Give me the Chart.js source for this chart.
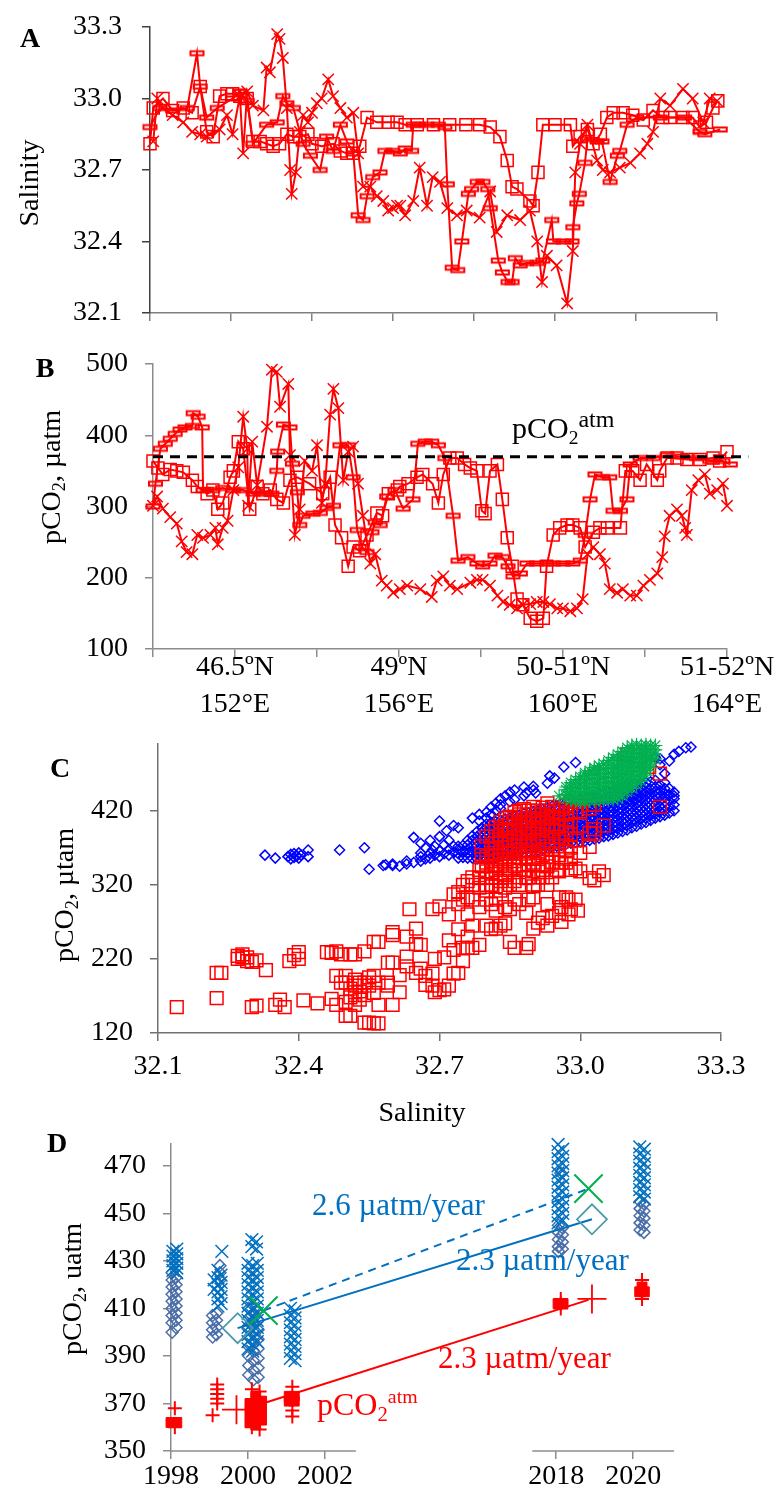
<!DOCTYPE html>
<html><head><meta charset="utf-8"><title>Salinity and pCO2</title>
<script src="https://cdn.jsdelivr.net/npm/chart.js@4.4.1/dist/chart.umd.min.js"></script>
<style>
html,body{margin:0;padding:0;background:#fff;}
body{width:784px;height:1488px;position:relative;overflow:hidden;font-family:'Liberation Serif','Times New Roman',serif;color:#000;}
canvas{position:absolute;left:0;}
.t{position:absolute;white-space:nowrap;line-height:1;}
.c{transform:translate(-50%,-50%);}
.r{transform:translate(-50%,-50%) rotate(-90deg);}
.b{font-weight:bold;}
.sb{font-size:0.65em;position:relative;top:0.3em;}
.sp{font-size:0.62em;position:relative;top:-0.62em;}
</style></head><body>
<canvas id="cA" width="784" height="340" style="top:0px"></canvas>
<canvas id="cB" width="784" height="390" style="top:340px"></canvas>
<canvas id="cC" width="784" height="400" style="top:720px"></canvas>
<canvas id="cD" width="784" height="368" style="top:1120px"></canvas>

<div class="t c b" style="left:30px;top:38px;font-size:28px">A</div>
<div class="t c b" style="left:45px;top:368px;font-size:28px">B</div>
<div class="t c b" style="left:60px;top:768px;font-size:28px">C</div>
<div class="t c b" style="left:57px;top:1143px;font-size:28px">D</div>

<div class="t r" style="left:29px;top:183px;font-size:28px">Salinity</div>
<div class="t r" style="left:51px;top:477px;font-size:28px">pCO<span class="sb">2</span>, µatm</div>
<div class="t r" style="left:64px;top:895px;font-size:28px">pCO<span class="sb">2</span>, µtam</div>
<div class="t r" style="left:72px;top:1289px;font-size:28px">pCO<span class="sb">2</span>, uatm</div>
<div class="t c" style="left:422px;top:1112px;font-size:28px">Salinity</div>

<div class="t" style="left:512px;top:413px;font-size:30px">pCO<span class="sb">2</span><span class="sp" style="font-size:0.8em;top:-0.45em">atm</span></div>
<div class="t" style="left:312px;top:1189px;font-size:31px;color:#0070C0">2.6 µatm/year</div>
<div class="t" style="left:456px;top:1244px;font-size:31px;color:#0070C0">2.3 µatm/year</div>
<div class="t" style="left:438px;top:1342px;font-size:31px;color:#FF0000">2.3 µatm/year</div>
<div class="t" style="left:317px;top:1388px;font-size:32px;color:#FF0000">pCO<span class="sb">2</span><span class="sp">atm</span></div>

<script>
// ---------------- DATA ----------------
// Panel A: salinity along transect (x = position index 0..7)
const aXTicks = [0,1,2,3,4,5,6,7];
const aYTicks = [32.1,32.4,32.7,33.0,33.3];
const aCross = [[0.04,32.82],[0.09,33.0],[0.16,32.96],[0.28,32.93],[0.41,32.9],[0.52,32.86],[0.62,32.85],[0.70,32.84],[0.86,32.87],[0.95,32.93],[1.02,32.85],[1.11,33.01],[1.15,32.77],[1.20,33.03],[1.27,32.97],[1.40,32.95],[1.44,33.13],[1.48,33.11],[1.57,33.27],[1.60,33.25],[1.64,33.17],[1.69,32.96],[1.73,32.7],[1.75,32.6],[1.80,32.69],[1.85,32.86],[1.89,32.93],[1.95,32.9],[2.0,32.94],[2.06,32.98],[2.12,33.0],[2.20,33.08],[2.26,33.01],[2.35,32.96],[2.43,32.92],[2.51,32.94],[2.57,32.77],[2.63,32.63],[2.72,32.63],[2.80,32.59],[2.88,32.57],[2.94,32.53],[3.0,32.54],[3.05,32.55],[3.09,32.55],[3.15,32.51],[3.25,32.57],[3.33,32.71],[3.42,32.55],[3.49,32.67],[3.58,32.65],[3.67,32.54],[3.79,32.51],[3.91,32.53],[4.07,32.5],[4.20,32.61],[4.28,32.44],[4.41,32.51],[4.57,32.49],[4.69,32.53],[4.78,32.4],[4.84,32.23],[4.90,32.34],[5.02,32.3],[5.15,32.14],[5.22,32.36],[5.25,32.69],[5.31,32.81],[5.40,32.89],[5.52,32.74],[5.59,32.7],[5.68,32.69],[5.80,32.71],[5.93,32.73],[6.05,32.77],[6.14,32.81],[6.21,32.86],[6.30,33.0],[6.42,32.97],[6.58,33.04],[6.70,33.0],[6.83,32.9],[6.91,33.0],[7.0,32.99]];
const aDash = [[0.0,32.88],[0.12,32.96],[0.28,32.95],[0.46,32.96],[0.58,33.19],[0.62,33.05],[0.70,32.92],[0.83,32.96],[1.02,33.0],[1.11,33.03],[1.20,32.99],[1.27,32.81],[1.44,32.89],[1.57,32.9],[1.64,33.01],[1.69,32.98],[1.77,32.96],[1.89,32.81],[1.98,32.76],[2.10,32.7],[2.18,32.84],[2.26,32.78],[2.35,32.89],[2.43,32.82],[2.51,32.77],[2.57,32.51],[2.63,32.49],[2.68,32.59],[2.75,32.67],[2.84,32.69],[2.90,32.78],[3.0,32.78],[3.09,32.77],[3.15,32.79],[3.23,32.78],[3.25,32.89],[3.31,32.89],[3.42,32.89],[3.56,32.89],[3.64,32.88],[3.67,32.64],[3.73,32.29],[3.80,32.28],[3.85,32.4],[3.93,32.6],[3.97,32.62],[4.04,32.65],[4.11,32.65],[4.17,32.62],[4.20,32.54],[4.30,32.32],[4.35,32.27],[4.42,32.23],[4.47,32.23],[4.51,32.33],[4.57,32.3],[4.65,32.31],[4.78,32.31],[4.85,32.32],[4.96,32.49],[4.98,32.4],[5.1,32.4],[5.21,32.4],[5.22,32.46],[5.27,32.56],[5.30,32.6],[5.37,32.73],[5.40,32.83],[5.52,32.82],[5.58,32.82],[5.68,32.65],[5.77,32.76],[5.80,32.78],[5.89,32.89],[6.01,32.92],[6.3,32.92],[6.6,32.92],[6.79,32.86],[6.85,32.85],[7.04,32.87]];
const aSquare = [[0.0,32.81],[0.04,32.96],[0.16,33.0],[0.28,32.95],[0.41,32.96],[0.52,32.94],[0.62,33.05],[0.70,32.86],[0.78,32.84],[0.86,33.01],[0.95,33.02],[1.02,33.02],[1.11,33.01],[1.20,33.0],[1.27,32.82],[1.36,32.82],[1.44,32.81],[1.52,32.8],[1.60,32.81],[1.69,32.85],[1.77,32.84],[1.85,32.84],[1.95,32.85],[2.0,32.81],[2.12,32.8],[2.26,32.81],[2.35,32.78],[2.43,32.77],[2.51,32.77],[2.59,32.8],[2.68,32.92],[2.80,32.9],[2.94,32.9],[3.05,32.9],[3.15,32.89],[3.3,32.89],[3.5,32.89],[3.7,32.89],[3.9,32.89],[4.07,32.89],[4.20,32.88],[4.32,32.84],[4.41,32.74],[4.47,32.63],[4.53,32.62],[4.69,32.57],[4.73,32.55],[4.79,32.69],[4.85,32.89],[5.0,32.89],[5.19,32.89],[5.22,32.8],[5.31,32.84],[5.40,32.87],[5.47,32.81],[5.56,32.85],[5.64,32.92],[5.72,32.94],[5.84,32.94],[5.96,32.93],[6.09,32.91],[6.21,32.95],[6.33,32.92],[6.42,32.92],[6.58,32.92],[6.70,32.92],[6.79,32.88],[6.87,32.9],[6.95,32.96],[7.01,32.99]];

// Panel B: pCO2 along transect
const bXTicks = [0,1,2,3,4,5,6,7];
const bYTicks = [100,200,300,400,500];
const bLabelPos = [1,3,5,7];
const bLat = ['46.5ºN','49ºN','50-51ºN','51-52ºN'];
const bLon = ['152°E','156°E','160°E','164°E'];
const bAtmLine = [[0,370],[7.26,370]];
const bCross = [[0,301],[0.05,314],[0.12,297],[0.21,285],[0.29,276],[0.35,251],[0.41,236],[0.48,233],[0.54,260],[0.61,256],[0.7,260],[0.76,270],[0.79,247],[0.85,270],[0.91,280],[0.98,323],[1.04,355],[1.1,426],[1.15,381],[1.16,301],[1.21,391],[1.27,330],[1.39,412],[1.45,492],[1.51,489],[1.55,440],[1.65,472],[1.67,372],[1.73,260],[1.79,296],[1.85,364],[1.94,350],[2.0,386],[2.06,305],[2.1,332],[2.16,429],[2.2,465],[2.26,438],[2.32,337],[2.38,377],[2.44,384],[2.5,332],[2.56,287],[2.65,220],[2.71,233],[2.79,196],[2.85,189],[2.93,179],[3.01,184],[3.1,189],[3.26,184],[3.4,173],[3.46,196],[3.54,202],[3.62,189],[3.71,184],[3.87,193],[3.95,197],[4.02,197],[4.11,189],[4.2,175],[4.27,166],[4.35,162],[4.44,157],[4.51,162],[4.6,163],[4.68,166],[4.76,166],[4.84,163],[4.93,157],[5.0,157],[5.09,153],[5.17,157],[5.24,170],[5.3,233],[5.37,243],[5.45,233],[5.51,220],[5.57,184],[5.66,179],[5.73,184],[5.82,175],[5.9,175],[5.98,189],[6.06,197],[6.15,206],[6.21,229],[6.24,258],[6.3,287],[6.39,296],[6.45,287],[6.49,270],[6.51,260],[6.57,323],[6.65,337],[6.73,345],[6.79,318],[6.88,323],[6.95,332],[7.0,301]];
const bDash = [[0,300],[0.03,332],[0.09,381],[0.15,388],[0.21,395],[0.27,402],[0.33,408],[0.39,411],[0.48,413],[0.49,431],[0.55,426],[0.6,411],[0.61,323],[0.73,323],[0.85,326],[0.98,323],[1.1,323],[1.22,318],[1.34,318],[1.45,318],[1.51,350],[1.52,377],[1.59,415],[1.67,411],[1.7,360],[1.76,320],[1.79,274],[1.83,287],[1.95,290],[2.04,291],[2.12,298],[2.2,301],[2.28,386],[2.38,386],[2.44,341],[2.49,267],[2.55,243],[2.61,236],[2.67,264],[2.71,278],[2.77,274],[2.85,314],[2.95,323],[3.05,297],[3.17,310],[3.23,388],[3.32,391],[3.4,391],[3.48,386],[3.56,368],[3.66,287],[3.72,224],[3.84,229],[3.95,220],[4.02,216],[4.11,220],[4.17,231],[4.26,229],[4.33,216],[4.39,202],[4.48,206],[4.56,220],[4.68,220],[4.8,220],[4.88,220],[5.0,220],[5.12,220],[5.21,224],[5.27,260],[5.33,310],[5.39,345],[5.48,341],[5.57,341],[5.61,294],[5.7,294],[5.78,310],[5.82,359],[5.94,368],[6.1,368],[6.27,372],[6.45,370],[6.63,368],[6.79,364],[6.95,364],[7.04,359]];
const bSquare = [[0,364],[0.06,354],[0.12,345],[0.21,352],[0.29,350],[0.37,348],[0.48,337],[0.54,328],[0.66,318],[0.73,323],[0.79,296],[0.85,305],[0.94,341],[0.98,350],[1.04,391],[1.1,381],[1.18,296],[1.27,328],[1.34,318],[1.43,323],[1.51,310],[1.59,305],[1.67,337],[1.76,341],[1.91,332],[2.07,318],[2.16,341],[2.22,274],[2.3,256],[2.38,216],[2.44,243],[2.52,238],[2.61,260],[2.73,291],[2.8,287],[2.87,318],[2.98,323],[3.01,328],[3.11,332],[3.22,341],[3.29,345],[3.41,332],[3.48,305],[3.54,345],[3.62,368],[3.71,368],[3.8,359],[3.87,354],[3.95,350],[4.01,294],[4.05,290],[4.11,350],[4.2,359],[4.26,310],[4.32,256],[4.38,216],[4.44,170],[4.51,162],[4.6,143],[4.68,139],[4.76,143],[4.8,216],[4.88,260],[4.96,270],[5.05,274],[5.12,274],[5.21,270],[5.27,243],[5.37,264],[5.45,270],[5.54,270],[5.7,270],[5.76,350],[5.85,350],[5.94,337],[6.02,359],[6.15,337],[6.18,350],[6.27,368],[6.39,368],[6.51,366],[6.67,366],[6.83,368],[6.91,364],[7.0,377]];

// Panel C: pCO2 vs salinity; rows = [salinity, pCO2 values...]
const cXTicks = [32.1,32.4,32.7,33.0,33.3];
const cYTicks = [120,220,320,420];
const cBlueTracks = [[32.328,360],[32.35,356],[32.377,358],[32.383,361,355],[32.39,357,362],[32.396,359],[32.40,356,363],[32.405,360],[32.42,367,358],[32.487,367],[32.54,370],[32.55,341],[32.58,346],[32.585,347],[32.60,346,348],[32.615,345],[32.63,348,352],[32.645,350,384],[32.66,352,376,363,358],[32.67,355,370],[32.68,356,380,362],[32.685,367],[32.69,360,372],[32.70,358,406,385,366],[32.71,362,374],[32.715,393],[32.72,360,368,380],[32.73,400,364,372],[32.74,397],[32.77,410],[32.785,406,415],[32.80,410,418],[32.81,415,425],[32.82,420,430],[32.83,428,423,436],[32.84,440],[32.85,432,445],[32.86,435,448],[32.88,440,452],[32.885,444],[32.90,448,453],[32.905,444],[32.93,457],[32.935,467],[32.945,464],[32.965,479],[32.99,485],[33.16,492],[33.17,490,482],[33.18,470],[33.19,487],[33.20,496,440],[33.21,500],[33.225,505],[33.236,506]];
const cBlueBand = [[32.74,356,362,368,372],[32.75,357,365,373],[32.76,356,362,368,374,380],[32.77,356,364,372,380,386],[32.78,355,361,367,373,379,385,392],[32.79,356,363,370,377,384,391,397],[32.80,355,361,367,373,379,385,391,397,402],[32.81,356,363,370,377,384,391,398,404],[32.82,357,363,369,375,381,387,393,399,405],[32.83,359,366,373,380,387,394,401,407],[32.84,360,366,372,378,384,390,396,402,409],[32.85,361,368,375,382,389,396,403,410],[32.86,362,368,374,380,386,392,398,404,412],[32.87,363,370,377,384,391,398,405,414],[32.88,364,370,376,382,388,394,400,406,416],[32.89,365,372,379,386,393,400,407,417],[32.90,366,372,378,384,390,396,402,408,414,419],[32.91,367,374,381,388,395,402,409,420],[32.92,368,374,380,386,392,398,404,410,416,422],[32.93,370,377,384,391,398,405,412,424],[32.94,371,377,383,389,395,401,407,413,419,426],[32.95,372,379,386,393,400,407,414,427],[32.96,373,379,385,391,397,403,409,415,421,429],[32.97,375,382,389,396,403,410,417,431],[32.98,376,382,388,394,400,406,412,418,424,433],[32.99,377,384,391,398,405,412,419,434],[33.00,378,384,390,396,402,408,414,420,426,436],[33.01,379,386,393,400,407,414,421,438],[33.02,380,386,392,398,404,410,416,422,428,434,440],[33.03,382,389,396,403,410,417,424,431,441],[33.04,383,389,395,401,407,413,419,425,431,437,443],[33.05,385,392,399,406,413,420,427,434,445],[33.06,386,392,398,404,410,416,422,428,434,440,447],[33.07,388,395,402,409,416,423,430,437,448],[33.08,390,396,402,408,414,420,426,432,438,444,450],[33.09,392,399,406,413,420,427,434,441,451],[33.10,394,400,406,412,418,424,430,436,442,448,453],[33.11,397,404,411,418,425,432,439,446,454],[33.12,399,405,411,417,423,429,435,441,447,456],[33.13,402,409,416,423,430,437,444,451,457],[33.14,404,410,416,422,428,434,440,446,452,458],[33.15,407,414,421,428,435,442,449,459],[33.16,410,416,422,428,434,440,446,452,461],[33.17,412,419,426,433,440,447,455],[33.18,414,420,426,432,438,444,450,458],[33.19,417,425,433,441,450],[33.20,420,428,436,445]];
const cRed = [[32.14,155],[32.225,201,167],[32.235,201],[32.27,224,220],[32.28,222,226],[32.29,217,222],[32.30,216,155],[32.31,157,218],[32.33,205],[32.35,158],[32.36,165],[32.37,155],[32.38,217],[32.39,225],[32.40,229,220],[32.41,164],[32.44,160],[32.46,229],[32.47,166,228],[32.48,158,230,197],[32.49,188,226],[32.50,162,188,143,197],[32.51,226,180,168,143],[32.52,184,158,171,226,192],[32.53,176,188,165],[32.54,188,171,230,134],[32.55,184,134,195],[32.56,197,133,243,174],[32.57,188,243,133,158],[32.59,184,188,215],[32.60,256,158,252,215],[32.615,175,198],[32.63,223,210,250],[32.636,287],[32.65,261,201,240],[32.66,239,207],[32.67,197,185],[32.685,184,287,200],[32.69,175,220],[32.70,291,178],[32.71,179,222],[32.72,184,245,280],[32.73,307,232,200],[32.74,201,294,310,260],[32.75,235,217,300,320],[32.76,303,235,280,325,250],[32.77,320,235,300,330,265],[32.785,329,239,316,340,290],[32.80,312,338,320,265,350,300],[32.81,294,320,363,260,345],[32.82,261,346,376,300,330,285],[32.83,265,312,376,355,395],[32.84,355,316,380,268,290,335,400],[32.85,243,358,287,380,320,405],[32.86,235,384,300,345,365,410],[32.87,320,367,294,390,340,415],[32.885,235,329,376,282,397,355,410],[32.89,240,300,397,365,420],[32.90,261,338,380,303,402,350,425],[32.91,269,346,389,410,320,365],[32.92,275,360,395,330,415],[32.93,265,294,358,393,320,410,430],[32.94,278,351,402,330,380],[32.955,303,282,338,410,360,385],[32.96,270,290],[32.97,303,415,350,390,428],[32.975,280,300],[32.98,287,355,432,400,370],[32.99,300,342,419,432,380],[32.995,285],[33.00,419,363,338,400],[33.02,423,371,329,390,428],[33.03,326,428,395,389],[33.04,338],[33.05,333,400],[33.10,496],[33.147,479],[33.17,470,425]];
const cRedCore = [[32.79,345,360,372],[32.80,330,358,385],[32.81,335,352,370,392],[32.82,318,340,360,385,398],[32.83,325,345,365,388,405],[32.84,330,350,370,392,410],[32.85,340,362,392,412],[32.86,325,352,372,395,418],[32.87,330,356,378,400,420],[32.88,340,362,385,405,422],[32.89,330,348,372,390,410],[32.90,318,358,375,395,415],[32.91,330,355,378,398,420],[32.92,340,368,385,405,424],[32.93,345,372,400,420],[32.94,350,368,392,412,425],[32.95,340,372,398,418],[32.96,350,378,400,422],[32.97,365,382,408],[32.98,340,388,418]];
const cGreen = [[32.955,440],[32.97,436,442,448,452],[32.98,434,440,446,452,458],[32.99,433,439,445,451,457,462],[33.00,432,438,444,450,456,462,466],[33.01,432,438,444,450,456,462,468,471],[33.02,433,439,445,451,457,463,469,474],[33.03,433,439,445,451,457,463,469,475,478],[33.04,434,440,446,452,458,464,470,476,481],[33.05,434,440,446,452,458,464,470,476,483],[33.06,435,441,447,453,459,465,471,477,483,488],[33.07,435,441,447,453,459,465,471,477,483,492],[33.08,436,442,448,454,460,466,472,478,484,490,496],[33.09,440,446,452,458,464,470,476,482,488,494,500],[33.10,445,451,457,463,469,475,481,487,493,499,505],[33.11,450,456,462,468,474,480,486,492,498,504,508],[33.12,455,461,467,473,479,485,491,497,503,509],[33.13,460,466,472,478,484,490,496,502,508],[33.14,468,474,480,486,492,498,504,509],[33.15,478,484,490,496,502,508],[33.16,490,496,502,508]];

// Panel D: pCO2 by year; rows = [year, values...]
const dXTicks = [1998,2000,2002,2018,2020];
const dYTicks = [350,370,390,410,430,450,470];
const dAxisSegments = [[1998,2002.8],[2017.38,2021.06]];
const dCrossRows = [[1998.05,426,428,430,432,434],[1998.15,425,427,429,431,433,435],[1999.32,434],[1999.22,411,414,417,420,423,426],[1999.3,412,415,418,421,424],[1999.12,418,422],[2000.1,439,436],[2000.22,438,435],[2000.0,429,426,423,420,417,414,411,408,405,402,399,396,393],[2000.12,428,425,422,419,416,413,410,407,404,401,398,395,392],[2000.24,429,426,423,420,417,414,411,408,405,402,399,396],[2001.1,410,407,404,401,398,395,392,389],[2001.22,409,406,403,400,397,394,391,388],[2018.05,479,476,473,470,467,464,461,458,455,452,449,446],[2018.17,477,474,471,468,465,462,459,456,453,450,447],[2020.17,478,475,472,469,466,463,460,457],[2020.29,477,474,471,468,465,462,459,456]];
const dDiamondRows = [[1998.03,400,404,407,410,413,416,419,422,425],[1998.13,402,405,408,411,414,417,420,423],[1999.08,398,401,404,407],[1999.18,399,402,405,408],[1999.27,422,425,428],[2000.02,410,406,402,398,394,390,386,382],[2000.14,408,404,400,396,392,388,384,380],[2000.26,409,405,401,397,393,389,385,381],[2018.06,445,442,439,436,434],[2018.16,444,441,438,435],[2018.12,467],[2020.18,455,452,449,446,443],[2020.28,454,451,448,445,442]];
const dAtmPlusRows = [[1998.1,368,360],[1999.08,365],[1999.2,378,376,374,372,370],[2000.1,376,360],[2000.3,375,359],[2001.15,377,367,364.5],[2018.12,412,410,414],[2020.23,422,414]];
const dAtmSquareRows = [[1998.0,362],[1998.15,362],[2000.05,362,366,370],[2000.2,361,365,369,373],[2000.35,363,367,371],[2001.07,371,373],[2001.2,371,373],[2018.05,412],[2018.18,412],[2020.17,417],[2020.29,417],[2020.23,419]];
const dTrendAtm = [[2000.3,369.6],[2018.84,413.6]];
const dTrendSolid = [[1999.73,401.7],[2018.93,447.5]];
const dTrendDashed = [[2000.4,409.1],[2018.84,460.4]];
const dMeanDiamond = [[1999.73,401.7],[2018.93,447.5]];
const dMeanCross = [[2000.4,409.1],[2018.84,460.4]];
const dMeanPlus = [[1999.7,367.4],[2018.93,414]];

// ---------------- STYLE / HELPERS ----------------
const RED='#FF0000', BLUEC='#0000FF', GREEN='#00B050', BLUED='#0070C0', SLATE='#4A6EA9', TEAL='#4A9DA8';
const FONT="'Liberation Serif','Times New Roman',serif";
const NONE='rgba(0,0,0,0)';
Chart.defaults.font.family=FONT;
Chart.defaults.color='#000';
Chart.defaults.animation=false;
Chart.defaults.events=[];
Chart.defaults.plugins.legend.display=false;
Chart.defaults.plugins.tooltip.enabled=false;

const pts=a=>a.map(([x,y])=>({x,y}));
const rows=a=>a.flatMap(([x,...ys])=>ys.map(y=>({x,y})));
const fixTicks=arr=>s=>{s.ticks=arr.map(v=>({value:v}));};

function yAxis(min,max,ticks,width,pad,color,fmt){
  return {type:'linear',position:'left',min,max,afterBuildTicks:fixTicks(ticks),afterFit:s=>{s.width=width;},
    ticks:{font:{family:FONT,size:28,lineHeight:0.5},padding:pad,color:'#000',callback:fmt,autoSkip:false},
    grid:{drawOnChartArea:false,drawTicks:true,tickLength:8,color,lineWidth:1.5},
    border:{display:true,color,width:1.5}};
}
function xAxis(type,min,max,ticks,height,pad,color,fmt,lh,show,border){
  return {type,position:'bottom',min,max,afterBuildTicks:fixTicks(ticks),afterFit:s=>{s.height=height;},
    ticks:{display:show,font:{family:FONT,size:28,lineHeight:lh},padding:pad,color:'#000',callback:fmt,autoSkip:false,maxRotation:0,minRotation:0},
    grid:{drawOnChartArea:false,drawTicks:true,tickLength:8,color,lineWidth:1.5},
    border:{display:border,color,width:1.5}};
}
function series(data,style,radius,extra){
  return Object.assign({data:pts(data),showLine:true,borderColor:RED,borderWidth:2,backgroundColor:NONE,
    pointStyle:style,pointRadius:radius,pointBorderColor:RED,pointBorderWidth:1.5,pointBackgroundColor:NONE,tension:0,clip:false},extra||{});
}
function cloud(data,style,radius,color,width,fill){
  return {data,showLine:false,pointStyle:style,pointRadius:radius,pointBorderColor:color,pointBorderWidth:width,
    pointBackgroundColor:fill||NONE,backgroundColor:fill||NONE,borderColor:color,clip:false};
}
// hollow bar marker used in panels A and B
const dashMark=document.createElement('canvas'); dashMark.width=17; dashMark.height=9;
(function(){const g=dashMark.getContext('2d'); g.strokeStyle=RED; g.lineWidth=2; g.strokeRect(2,2.5,13,4);})();

const f1=v=>v.toFixed(1), f0=v=>String(v);
const common={responsive:false,devicePixelRatio:1,maintainAspectRatio:false};

// ---------------- PANEL A ----------------
new Chart(document.getElementById('cA'),{type:'scatter',
  data:{datasets:[series(aCross,'crossRot',8),series(aDash,dashMark,5),series(aSquare,'rect',8.5)]},
  options:Object.assign({},common,{layout:{padding:{top:25,right:67,bottom:0,left:0}},
    scales:{x:xAxis('linear',0,7,aXTicks,18,0,'#808080',f0,1.2,false,true),
            y:yAxis(32.1,33.3,aYTicks,150,20,'#404040',f1)}})});

// ---------------- PANEL B ----------------
const bLabel=v=>{const i=bLabelPos.indexOf(v);return i<0?'':[bLat[i],bLon[i]];};
new Chart(document.getElementById('cB'),{type:'scatter',
  data:{datasets:[
    {data:pts(bAtmLine),showLine:true,borderColor:'#000',borderWidth:3,borderDash:[10,7],pointRadius:0,clip:false},
    series(bCross,'crossRot',8),series(bDash,dashMark,5),series(bSquare,'rect',8.5)]},
  options:Object.assign({},common,{layout:{padding:{top:12,right:57,bottom:0,left:0}},
    scales:{x:xAxis('linear',0,7,bXTicks,81,-8,'#8c8c8c',bLabel,1.32,true,true),
            y:yAxis(100,500,bYTicks,153,17,'#8c8c8c',f0)}})});

// ---------------- PANEL C ----------------
new Chart(document.getElementById('cC'),{type:'scatter',
  data:{datasets:[
    cloud(rows(cGreen),'star',7,GREEN,1.2),
    cloud(rows(cRedCore),'rect',9,RED,1.5),
    cloud(rows(cRed),'rect',9,RED,1.5),
    cloud(rows(cBlueBand),'rectRot',5,BLUEC,1.5),
    cloud(rows(cBlueTracks),'rectRot',5,BLUEC,1.5)]},
  options:Object.assign({},common,{layout:{padding:{top:9,right:63,bottom:0,left:0}},
    scales:{x:xAxis('linear',32.1,33.3,cXTicks,87,9,'#707070',f1,1.2,true,true),
            y:yAxis(120,510,cYTicks,158,17,'#707070',f0)}})});

// ---------------- PANEL D (broken year axis: 2003-2017 removed) ----------------
const D_BREAK={at:2010,shift:10};
const compress=v=>v>=D_BREAK.at?v-D_BREAK.shift:v;
class BrokenYearScale extends Chart.LinearScale{
  configure(){
    super.configure();
    this._endValue=compress(this.max);
    this._valueRange=this._endValue-this._startValue;
  }
  getPixelForValue(v){return super.getPixelForValue(compress(v));}
  getValueForPixel(p){const v=super.getValueForPixel(p);return v>=2005?v+D_BREAK.shift:v;}
}
BrokenYearScale.id='brokenYear';
BrokenYearScale.defaults=Chart.LinearScale.defaults;
Chart.register(BrokenYearScale);
const brokenAxis={id:'brokenAxis',beforeDatasetsDraw(chart){
  const xs=chart.scales.x,ctx=chart.ctx,y=xs.top;
  ctx.save();ctx.strokeStyle='#8c8c8c';ctx.lineWidth=1.5;
  dAxisSegments.forEach(([a,b])=>{ctx.beginPath();ctx.moveTo(xs.getPixelForValue(a),y);ctx.lineTo(xs.getPixelForValue(b),y);ctx.stroke();});
  ctx.restore();}};
function trend(data,color,dash){return {data:pts(data),showLine:true,borderColor:color,borderWidth:2,borderDash:dash||[],pointRadius:0,clip:false};}
new Chart(document.getElementById('cD'),{type:'scatter',
  data:{datasets:[
    cloud(pts(dMeanCross),'crossRot',20,GREEN,2),
    cloud(pts(dMeanDiamond),'rectRot',15,TEAL,1.8),
    cloud(pts(dMeanPlus),'cross',14.5,RED,1.8),
    trend(dTrendDashed,BLUED,[8,6]),
    trend(dTrendSolid,BLUED),
    trend(dTrendAtm,RED),
    cloud(rows(dAtmPlusRows),'cross',7,RED,2),
    cloud(rows(dAtmSquareRows),'rect',7,RED,1,RED),
    cloud(rows(dCrossRows),'crossRot',9,BLUED,1.5),
    cloud(rows(dDiamondRows),'rectRot',6,SLATE,1.5)]},
  plugins:[brokenAxis],
  options:Object.assign({},common,{layout:{padding:{top:8,right:110,bottom:0,left:0}},
    scales:{x:xAxis('brokenYear',1998,2021.06,dXTicks,37,1,'#8c8c8c',f0,1.2,true,false),
            y:yAxis(350,479.2,dYTicks,171,17,'#8c8c8c',f0)}})});
</script>
</body></html>
